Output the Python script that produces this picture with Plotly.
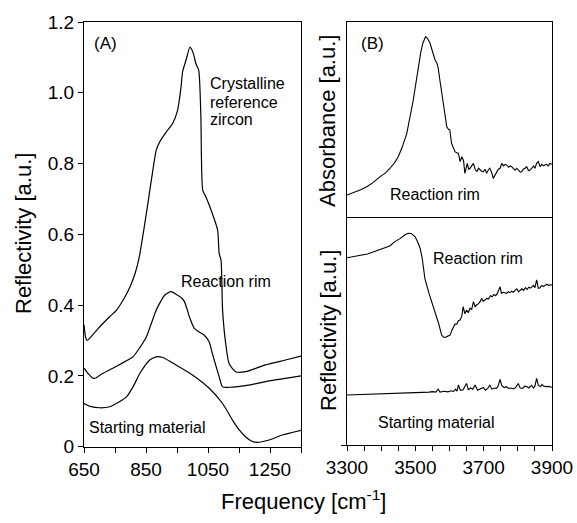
import plotly.graph_objects as go

W, H = 577, 523
FONT = "Liberation Sans, Arial, sans-serif"

# ---------------- Panel A data ----------------
a_cryst_f = [650, 655, 660, 680, 701, 730, 755, 780, 800, 815, 828, 841, 856, 872, 883, 894,
             915, 936, 952, 963, 968, 979, 992, 1003, 1011, 1020, 1027, 1033, 1043, 1064,
             1081, 1086, 1092, 1097, 1107, 1118, 1139, 1171, 1235, 1300, 1350]
a_cryst_v = [0.345, 0.31, 0.300, 0.318, 0.339, 0.365, 0.386, 0.42, 0.455, 0.49, 0.535, 0.602,
             0.687, 0.781, 0.838, 0.861, 0.889, 0.913, 0.951, 1.016, 1.059, 1.092, 1.129, 1.11,
             1.082, 1.064, 0.932, 0.725, 0.706, 0.659, 0.612, 0.546, 0.527, 0.386, 0.292,
             0.235, 0.212, 0.212, 0.231, 0.245, 0.256]

a_rim_f = [650, 665, 680, 690, 701, 750, 808, 830, 851, 868, 883, 897, 910, 931, 952, 965,
           974, 982, 990, 1006, 1020, 1038, 1054, 1062, 1070, 1086, 1097, 1118, 1182, 1236,
           1300, 1350]
a_rim_v = [0.222, 0.205, 0.193, 0.195, 0.202, 0.225, 0.254, 0.28, 0.31, 0.35, 0.386, 0.41,
           0.428, 0.438, 0.428, 0.42, 0.41, 0.39, 0.367, 0.334, 0.325, 0.315, 0.296, 0.27,
           0.245, 0.198, 0.169, 0.168, 0.174, 0.184, 0.193, 0.2]

a_start_f = [650, 670, 701, 733, 760, 787, 810, 830, 862, 883, 904, 947, 1001, 1054, 1097,
             1129, 1150, 1171, 1190, 1209, 1247, 1290, 1350]
a_start_v = [0.122, 0.114, 0.110, 0.113, 0.125, 0.141, 0.172, 0.207, 0.245, 0.254, 0.252,
             0.231, 0.202, 0.165, 0.122, 0.075, 0.048, 0.028, 0.016, 0.012, 0.019, 0.033,
             0.046]

# ---------------- Panel B data ----------------
b_abs_f = [3300, 3320, 3340, 3358, 3375, 3397, 3412, 3426, 3440, 3450, 3462, 3475, 3485, 3494,
           3502, 3509, 3516, 3522, 3527, 3530, 3536, 3543, 3550, 3558, 3563, 3567, 3572, 3577,
           3585, 3592, 3597, 3601, 3606, 3611, 3616, 3621, 3626, 3631, 3636, 3641, 3645, 3652,
           3656, 3660, 3665, 3670, 3675, 3680, 3685, 3689, 3694, 3699, 3704, 3709, 3713, 3718,
           3723, 3728, 3733, 3738, 3743, 3748, 3753, 3758, 3763, 3767, 3773, 3778, 3782, 3787,
           3792, 3797, 3802, 3807, 3811, 3816, 3821, 3826, 3831, 3836, 3841, 3846, 3850, 3855,
           3860, 3865, 3870, 3875, 3879, 3884, 3889, 3894, 3900]
b_abs_v = [0.113, 0.125, 0.14, 0.155, 0.175, 0.207, 0.225, 0.25, 0.28, 0.309, 0.36, 0.429,
           0.51, 0.6, 0.69, 0.771, 0.845, 0.891, 0.918, 0.925, 0.915, 0.891, 0.85, 0.805, 0.79,
           0.763, 0.70, 0.634, 0.54, 0.463, 0.45, 0.446, 0.378, 0.36, 0.335, 0.33, 0.327, 0.284,
           0.309, 0.29, 0.224, 0.275, 0.245, 0.25, 0.26, 0.275, 0.245, 0.232, 0.25, 0.241,
           0.235, 0.232, 0.245, 0.224, 0.24, 0.25, 0.23, 0.198, 0.215, 0.224, 0.245, 0.25,
           0.275, 0.262, 0.27, 0.267, 0.255, 0.262, 0.258, 0.248, 0.24, 0.25, 0.24, 0.23,
           0.232, 0.245, 0.25, 0.258, 0.238, 0.241, 0.25, 0.262, 0.25, 0.275, 0.284, 0.258,
           0.27, 0.262, 0.267, 0.27, 0.262, 0.275, 0.27]

b_rim_f = [3300, 3320, 3340, 3360, 3380, 3392, 3410, 3425, 3440, 3455, 3470, 3479, 3488, 3499,
           3507, 3514, 3520, 3528, 3540, 3553, 3568, 3577, 3582, 3587, 3595, 3602, 3606, 3611,
           3616, 3621, 3626, 3631, 3636, 3640, 3645, 3650, 3655, 3660, 3665, 3670, 3675, 3680,
           3685, 3690, 3694, 3699, 3704, 3709, 3714, 3720, 3725, 3730, 3735, 3740, 3748, 3752,
           3757, 3762, 3767, 3772, 3777, 3782, 3787, 3792, 3797, 3802, 3807, 3812, 3817, 3822,
           3827, 3832, 3837, 3841, 3846, 3850, 3855, 3860, 3865, 3870, 3875, 3880, 3885, 3890,
           3895, 3900]
b_rim_v = [0.821, 0.828, 0.832, 0.838, 0.848, 0.855, 0.862, 0.873, 0.892, 0.905, 0.922, 0.929,
           0.928, 0.914, 0.89, 0.863, 0.82, 0.73, 0.665, 0.607, 0.534, 0.482, 0.474, 0.472,
           0.476, 0.482, 0.50, 0.519, 0.53, 0.53, 0.545, 0.548, 0.565, 0.607, 0.575, 0.592,
           0.58, 0.60, 0.595, 0.629, 0.607, 0.615, 0.62, 0.63, 0.643, 0.63, 0.636, 0.643, 0.64,
           0.655, 0.65, 0.66, 0.655, 0.665, 0.694, 0.665, 0.67, 0.668, 0.665, 0.672, 0.668,
           0.675, 0.67, 0.678, 0.685, 0.672, 0.68, 0.685, 0.678, 0.69, 0.682, 0.692, 0.688,
           0.694, 0.70, 0.69, 0.724, 0.687, 0.69, 0.70, 0.695, 0.70, 0.705, 0.70, 0.703, 0.702]

b_start_f = [3300, 3350, 3400, 3450, 3480, 3500, 3520, 3540, 3550, 3560, 3567, 3572, 3585, 3595,
             3605, 3612, 3618, 3622, 3626, 3632, 3640, 3645, 3650, 3655, 3662, 3668, 3675, 3682,
             3690, 3699, 3705, 3712, 3718, 3724, 3732, 3738, 3743, 3748, 3753, 3760, 3767, 3773,
             3780, 3788, 3795, 3801, 3807, 3814, 3820, 3826, 3832, 3840, 3846, 3850, 3855, 3860,
             3866, 3871, 3875, 3882, 3890, 3900]
b_start_v = [0.219, 0.221, 0.224, 0.226, 0.228, 0.229, 0.231, 0.232, 0.234, 0.232, 0.245, 0.232,
             0.236, 0.233, 0.238, 0.235, 0.245, 0.236, 0.263, 0.24, 0.242, 0.258, 0.27, 0.243,
             0.25, 0.245, 0.263, 0.24, 0.245, 0.252, 0.24, 0.248, 0.263, 0.245, 0.25, 0.248,
             0.262, 0.288, 0.26, 0.252, 0.256, 0.248, 0.25, 0.246, 0.255, 0.27, 0.25, 0.248,
             0.258, 0.256, 0.25, 0.262, 0.25, 0.258, 0.292, 0.262, 0.256, 0.265, 0.259, 0.256,
             0.257, 0.253]

a_xticks = [650, 850, 1050, 1250]
a_yticks = [0, 0.2, 0.4, 0.6, 0.8, 1.0, 1.2]
a_ylabels = ["0", "0.2", "0.4", "0.6", "0.8", "1.0", "1.2"]
b_xticks = [3300, 3500, 3700, 3900]


def px(x):
    return x / W


def py(y):
    return 1 - y / H


line = dict(color="black", width=1.2)
fig = go.Figure()
sp = dict(line, shape="spline", smoothing=0.6)
fig.add_trace(go.Scatter(x=a_cryst_f, y=a_cryst_v, mode="lines", line=sp, xaxis="x", yaxis="y"))
fig.add_trace(go.Scatter(x=a_rim_f, y=a_rim_v, mode="lines", line=sp, xaxis="x", yaxis="y"))
fig.add_trace(go.Scatter(x=a_start_f, y=a_start_v, mode="lines", line=sp, xaxis="x", yaxis="y"))
fig.add_trace(go.Scatter(x=b_abs_f, y=b_abs_v, mode="lines", line=dict(line, width=1.1), xaxis="x2", yaxis="y2"))
fig.add_trace(go.Scatter(x=b_rim_f, y=b_rim_v, mode="lines", line=dict(line, width=1.1), xaxis="x3", yaxis="y3"))
fig.add_trace(go.Scatter(x=b_start_f, y=b_start_v, mode="lines", line=dict(line, width=1.1), xaxis="x3", yaxis="y3"))

axbase = dict(showline=True, linecolor="black", linewidth=1, mirror=True, showgrid=False,
              zeroline=False, tickcolor="black", ticklen=5, tickwidth=1, automargin=False,
              tickfont=dict(family=FONT, size=19, color="black"))
minor_tick = dict(ticks="outside", ticklen=5, tickwidth=1, tickcolor="black", showgrid=False)

xa_dom = [px(84), px(301)]
xb_dom = [px(347), px(552)]

fig.update_layout(
    width=W, height=H, margin=dict(l=0, r=0, t=0, b=0, autoexpand=False),
    paper_bgcolor="white", plot_bgcolor="white", showlegend=False,
    font=dict(family=FONT, color="black"),
    xaxis=dict(axbase, domain=xa_dom, range=[650, 1350], anchor="y", ticks="outside",
               tickmode="array", tickvals=a_xticks,
               minor=dict(minor_tick, tick0=650, dtick=100)),
    yaxis=dict(axbase, domain=[py(446.7), py(22)], range=[0, 1.2], anchor="x", ticks="outside",
               tickmode="array", tickvals=a_yticks, ticktext=a_ylabels),
    xaxis2=dict(axbase, domain=xb_dom, range=[3300, 3900], anchor="y2", ticks="",
                showticklabels=False),
    yaxis2=dict(axbase, domain=[py(217), py(22)], range=[0, 1], anchor="x2", ticks="",
                showticklabels=False),
    xaxis3=dict(axbase, domain=xb_dom, range=[3300, 3900], anchor="y3", ticks="outside",
                mirror=False, tickmode="array", tickvals=b_xticks,
                minor=dict(minor_tick, tick0=3300, dtick=50)),
    yaxis3=dict(axbase, domain=[py(445), py(217)], range=[0, 1], anchor="x3", ticks="outside",
                tickmode="array", tickvals=[0], showticklabels=False),
)


def ann(text, x, y, size=16, xanchor="left", angle=0):
    fig.add_annotation(text=text, x=px(x), y=py(y), xref="paper", yref="paper",
                       showarrow=False, xanchor=xanchor, yanchor="middle", textangle=angle,
                       font=dict(family=FONT, size=size, color="black"))


ann("(A)", 92, 43, size=17)
ann("(B)", 359, 43, size=17)
ann("Crystalline", 208, 83)
ann("reference", 208, 102)
ann("zircon", 208, 120)
ann("Reaction rim", 179, 281)
ann("Starting material", 87, 427)
ann("Reaction rim", 388, 194)
ann("Reaction rim", 431, 258)
ann("Starting material", 376, 422)
ann("Reflectivity [a.u.]", 23, 234, size=22, xanchor="center", angle=-90)
ann("Absorbance [a.u.]", 328, 121, size=22, xanchor="center", angle=-90)
ann("Reflectivity [a.u.]", 328, 331, size=22, xanchor="center", angle=-90)
ann("Frequency [cm<sup>-1</sup>]", 303, 500, size=22, xanchor="center")

fig.write_html("out.html", config={"displayModeBar": False},
               post_script="document.body.style.margin='0';")
